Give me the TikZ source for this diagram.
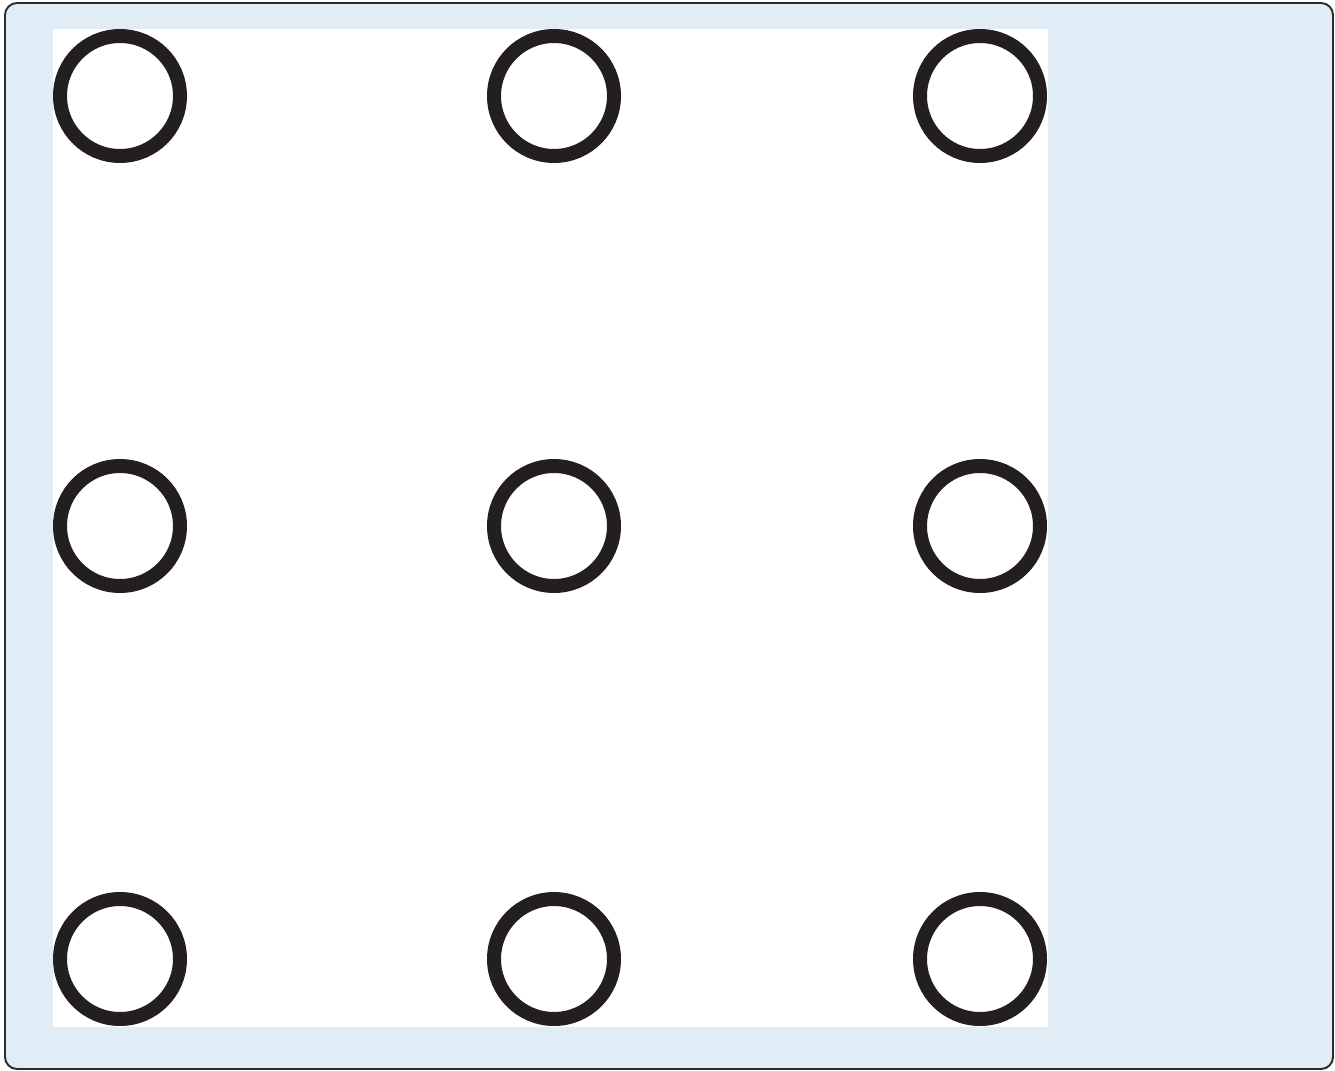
\documentclass[tikz,border=0pt]{standalone}
\usepackage{tikz}
\usetikzlibrary{positioning}
\usepackage{xcolor}
\definecolor{gridPanel}{HTML}{E1EDF6}
\definecolor{gridFrame}{HTML}{2B2B2B}
\definecolor{gridInk}{HTML}{231F20}

\begin{document}
\begin{tikzpicture}[x=0.02cm,y=-0.02cm]
  \tikzstyle{ring}=[circle,draw=gridInk,line width=0.28cm,minimum size=2.4cm,inner sep=0pt]
  \useasboundingbox (0,0) rectangle (1335,1071);
  \draw[draw=gridFrame,fill=gridPanel,line width=1.1pt,rounded corners=0.24cm] (5,3) rectangle (1333,1069);
  \fill[white] (53,29) rectangle (1048,1027);
  \foreach \r/\y in {a/96,b/526,c/959}{
    \node[ring] (\r1) at (120,\y) {};
    \node[ring] (\r2) at (554,\y) {};
    \node[ring] (\r3) at (980,\y) {};
  }
\end{tikzpicture}
\end{document}
